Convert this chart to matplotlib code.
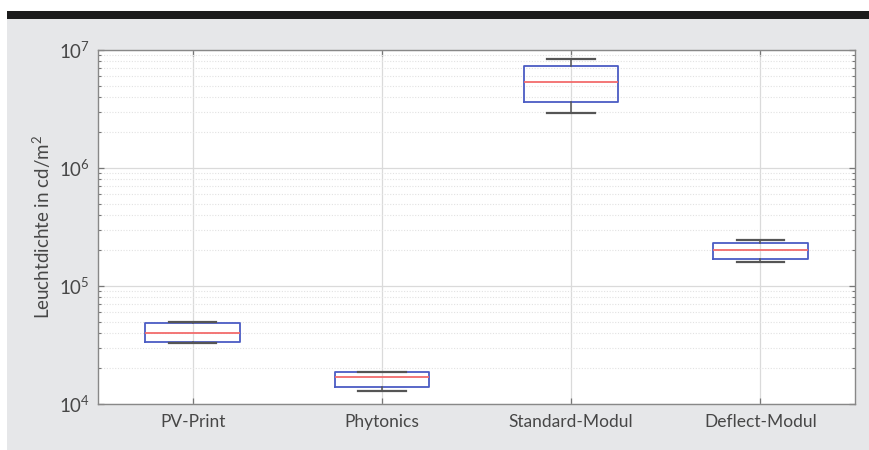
import math
import matplotlib
matplotlib.use('Agg')
import matplotlib.pyplot as plt
from matplotlib.patches import Rectangle
from matplotlib.ticker import LogLocator, NullFormatter, FuncFormatter

# Kategorien und Box-Statistiken (Leuchtdichte in cd/m²)
kategorien = ['PV-Print', 'Phytonics', 'Standard-Modul', 'Deflect-Modul']
whis_lo = [32600, 12800, 2.91e6, 1.61e5]
q1 = [33500, 14000, 3.65e6, 1.69e5]
median = [40000, 16800, 5.39e6, 2.01e5]
q3 = [48600, 18570, 7.36e6, 2.33e5]
whis_hi = [49100, 18570, 8.39e6, 2.44e5]

plt.rcParams['font.family'] = ['Lato', 'DejaVu Sans']
plt.rcParams['mathtext.default'] = 'regular'

W, H = 870, 450
fig = plt.figure(figsize=(W / 100, H / 100), dpi=100)
fig.patch.set_facecolor('white')

# grauer Hintergrund und dunkler Balken oben
fig.add_artist(Rectangle((7 / W, 0), 1 - 7 / W, 1 - 19 / H, transform=fig.transFigure,
                         facecolor='#e6e7e9', edgecolor='none', zorder=-10))
fig.add_artist(Rectangle((7 / W, 1 - 19 / H), 1 - 7 / W, 8 / H, transform=fig.transFigure,
                         facecolor='#1c1c1c', edgecolor='none', zorder=-10))

ax = fig.add_axes([98 / W, 1 - 404 / H, (855 - 98) / W, (404 - 50) / H])
ax.set_zorder(1)
ax.set_facecolor('white')

stats = []
for i, name in enumerate(kategorien):
    stats.append({'label': name, 'whislo': whis_lo[i], 'q1': q1[i], 'med': median[i],
                  'q3': q3[i], 'whishi': whis_hi[i], 'fliers': []})

ax.bxp(stats, positions=[1, 2, 3, 4], widths=0.5, showfliers=False,
       boxprops=dict(color='#4b5cc4', linewidth=1.3),
       medianprops=dict(color='#f26b6b', linewidth=1.3),
       whiskerprops=dict(color='#555555', linewidth=1.1),
       capprops=dict(color='#555555', linewidth=1.6),
       zorder=3)

ax.set_yscale('log')
ax.set_ylim(1e4, 1e7)
ax.set_xlim(0.5, 4.5)
ax.yaxis.set_major_locator(LogLocator(base=10, numticks=10))
ax.yaxis.set_minor_locator(LogLocator(base=10, subs=range(2, 10), numticks=100))
ax.yaxis.set_minor_formatter(NullFormatter())
ax.yaxis.set_major_formatter(FuncFormatter(lambda v, p: r'10$^{%d}$' % round(math.log10(v))))

ax.grid(True, which='major', color='#dadada', linewidth=0.9, zorder=0)
ax.grid(True, which='minor', axis='y', color='#e2e2e2', linewidth=0.8, linestyle=(0, (1, 1.5)), zorder=0)
ax.set_axisbelow(True)

ax.tick_params(which='both', direction='in', top=True, right=True, color='#777777',
               labelcolor='#474747')
ax.tick_params(which='major', length=4, width=0.9)
ax.tick_params(which='minor', length=2.5, width=0.8)
ax.tick_params(axis='x', labelsize=12.5, pad=7)
ax.tick_params(axis='y', labelsize=13.5, pad=6)

for s in ax.spines.values():
    s.set_color('#888888')
    s.set_linewidth(1.0)

ax.set_ylabel('Leuchtdichte in cd/m$^2$', fontsize=13.5, color='#474747', labelpad=4)

fig.savefig('out.png', dpi=100)
